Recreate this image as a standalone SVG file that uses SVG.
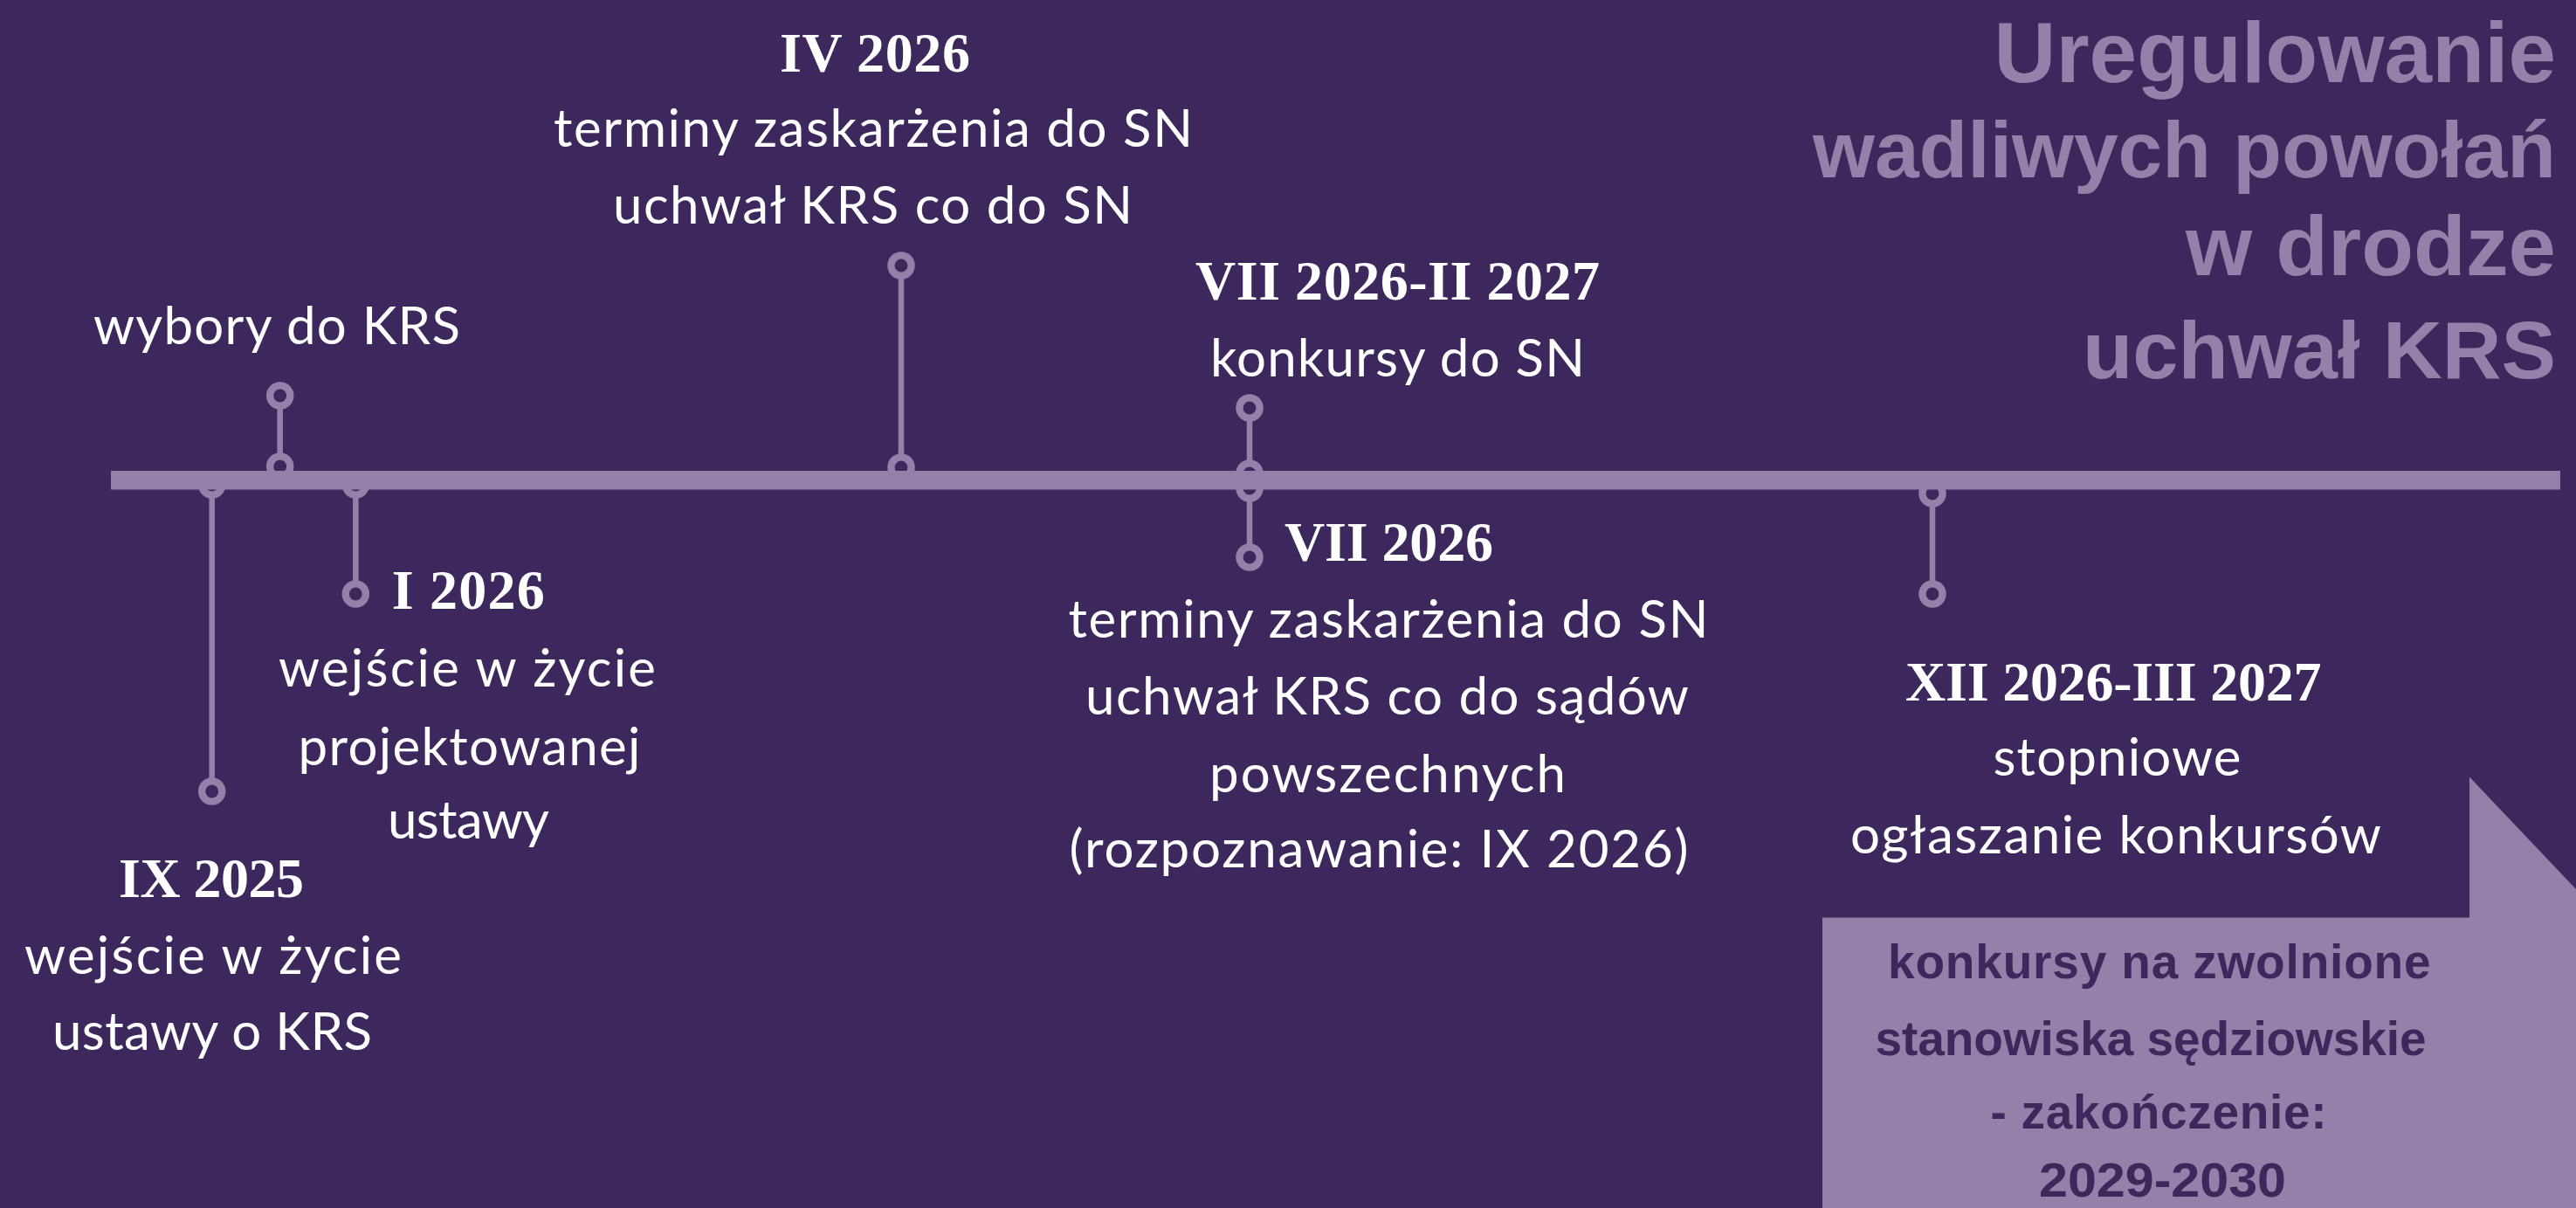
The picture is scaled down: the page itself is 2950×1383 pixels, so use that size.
<svg xmlns="http://www.w3.org/2000/svg" width="2950" height="1383" viewBox="0 0 2950 1383">
<style>
.bg{fill:#3c285c}
.stem{stroke:#9580aa;stroke-width:6.5;fill:none}
.ring{fill:#3c285c;stroke:#9580aa;stroke-width:8.3}
.bar{fill:#9580aa}
.txt{font-family:Lato,"Liberation Sans",sans-serif;font-size:60px;fill:#ffffff}
.date{font-family:"Liberation Serif","Times New Roman",serif;font-weight:bold;font-size:64px;fill:#ffffff}
.title{font-family:"Liberation Sans",Arial,sans-serif;font-weight:bold;fill:#9580aa;text-anchor:end}
.box{fill:#9580aa}
.boxtxt{font-family:"Liberation Sans",Arial,sans-serif;font-weight:bold;font-size:55px;fill:#3c285c}
</style>
<rect class="bg" x="0" y="0" width="2950" height="1383"/>

<g id="title">
<text class="title" x="2927" y="94" font-size="98" textLength="643.5" lengthAdjust="spacingAndGlyphs">Uregulowanie</text>
<text class="title" x="2927" y="203" font-size="91" textLength="851" lengthAdjust="spacingAndGlyphs">wadliwych powołań</text>
<text class="title" x="2927" y="315" font-size="97" textLength="424" lengthAdjust="spacingAndGlyphs">w drodze</text>
<text class="title" x="2927" y="433" font-size="93" textLength="542" lengthAdjust="spacingAndGlyphs">uchwał KRS</text>
</g>

<g id="box">
<polygon class="box" points="2087,1383 2087,1050.6 2828,1050.6 2828,889.5 2950,1018 2950,1383"/>
<text class="boxtxt" x="2162" y="1120" textLength="621.6">konkursy na zwolnione</text>
<text class="boxtxt" x="2147.6" y="1207.5" textLength="631">stanowiska sędziowskie</text>
<text class="boxtxt" x="2279.6" y="1292" textLength="385">- zakończenie:</text>
<text class="boxtxt" x="2335" y="1370" textLength="283" lengthAdjust="spacingAndGlyphs">2029-2030</text>
</g>

<g id="connectors">
<line class="stem" x1="320.7" y1="453" x2="320.7" y2="534"/>
<circle class="ring" cx="320.7" cy="453" r="11.6"/>
<circle class="ring" cx="320.7" cy="534" r="11.6"/>
<line class="stem" x1="242.7" y1="555" x2="242.7" y2="906"/>
<circle class="ring" cx="242.7" cy="555" r="11.6"/>
<circle class="ring" cx="242.7" cy="906" r="11.6"/>
<line class="stem" x1="407.3" y1="555" x2="407.3" y2="680"/>
<circle class="ring" cx="407.3" cy="555" r="11.6"/>
<circle class="ring" cx="407.3" cy="680" r="11.6"/>
<line class="stem" x1="1032" y1="304" x2="1032" y2="535"/>
<circle class="ring" cx="1032" cy="304" r="11.6"/>
<circle class="ring" cx="1032" cy="535" r="11.6"/>
<line class="stem" x1="1431" y1="467" x2="1431" y2="638"/>
<circle class="ring" cx="1431" cy="467" r="11.6"/>
<circle class="ring" cx="1431" cy="542" r="11.6"/>
<circle class="ring" cx="1431" cy="559" r="11.6"/>
<circle class="ring" cx="1431" cy="638" r="11.6"/>
<line class="stem" x1="2213" y1="565" x2="2213" y2="680"/>
<circle class="ring" cx="2213" cy="565" r="11.6"/>
<circle class="ring" cx="2213" cy="680" r="11.6"/>
<rect class="bar" x="127" y="539" width="2805" height="21.5"/>
</g>

<g id="node-wybory">
<text class="txt" x="107" y="394" textLength="420">wybory do KRS</text>
</g>

<g id="node-ix2025">
<text class="date" x="136" y="1027" textLength="212">IX 2025</text>
<text class="txt" x="28" y="1115" textLength="432">wejście w życie</text>
<text class="txt" x="60" y="1202" textLength="366">ustawy o KRS</text>
</g>

<g id="node-i2026">
<text class="date" x="448.7" y="697" textLength="175">I 2026</text>
<text class="txt" x="319" y="786" textLength="432">wejście w życie</text>
<text class="txt" x="341.5" y="876" textLength="392">projektowanej</text>
<text class="txt" x="444" y="960" textLength="185">ustawy</text>
</g>

<g id="node-iv2026">
<text class="date" x="893" y="81.5" textLength="218">IV 2026</text>
<text class="txt" x="634" y="168" textLength="732">terminy zaskarżenia do SN</text>
<text class="txt" x="702" y="256" textLength="595">uchwał KRS co do SN</text>
</g>

<g id="node-vii2026-ii2027">
<text class="date" x="1369" y="343" textLength="463">VII 2026-II 2027</text>
<text class="txt" x="1386" y="431" textLength="429">konkursy do SN</text>
</g>

<g id="node-vii2026">
<text class="date" x="1471" y="641.7" textLength="239">VII 2026</text>
<text class="txt" x="1223.5" y="730" textLength="733">terminy zaskarżenia do SN</text>
<text class="txt" x="1243" y="818" textLength="691">uchwał KRS co do sądów</text>
<text class="txt" x="1385" y="907" textLength="408">powszechnych</text>
<text class="txt" x="1224.6" y="993" textLength="709">(rozpoznawanie: IX 2026)</text>
</g>

<g id="node-xii2026-iii2027">
<text class="date" x="2182" y="801.5" textLength="476.5">XII 2026-III 2027</text>
<text class="txt" x="2282.5" y="888" textLength="284">stopniowe</text>
<text class="txt" x="2119" y="977" textLength="608">ogłaszanie konkursów</text>
</g>
</svg>
